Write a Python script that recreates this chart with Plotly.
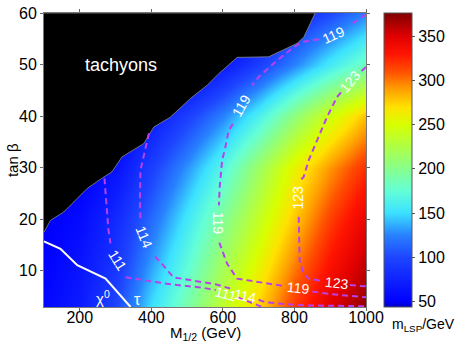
import plotly.graph_objects as go

# grid: m_LSP (GeV) at M_1/2 x tan(beta)
m12_grid = [100, 200, 300, 400, 500, 600, 700, 800, 900, 1000]
tanb_grid = [3, 10, 20, 30, 40, 50, 60]
mlsp_grid = [
    [55, 70, 100, 150, 190, 235, 275, 318, 350, 372],
    [52, 65, 90, 135, 175, 220, 260, 300, 335, 360],
    [48, 58, 80, 115, 155, 197, 238, 277, 315, 345],
    [45, 48, 62, 95, 130, 168, 215, 258, 292, 322],
    [45, 45, 45, 68, 95, 125, 162, 205, 245, 280],
    [45, 45, 45, 45, 45, 68, 95, 125, 157, 185],
    [45, 45, 45, 45, 45, 45, 45, 80, 100, 125],
]

# tachyon region boundary
tach_m12 = [100, 118, 155, 211, 221, 267, 290, 318, 379, 407, 453, 509, 556, 588, 621, 640, 728, 807, 826, 858]
tach_tanb = [17.5, 19.8, 21.4, 25.3, 26.0, 28.2, 29.2, 32.1, 34.7, 37.9, 39.8, 43.4, 46.0, 48.2, 50.2, 51.4, 51.5, 54.1, 55.3, 60]

# chi0 / stau LSP boundary
lsp_m12 = [100, 146, 193, 272, 342]
lsp_tanb = [15.7, 14.3, 11.1, 8.5, 3.0]

# Higgs mass contours (None = gap for label)
h111_m12 = [269, 274.6, 280.2, 285.8, None, 327.7, 369.6, 453.4, 537.2, 580, None, 640, 710]
h111_tanb = [27.95, 22.7, 17.9, 15.35, None, 8.76, 8.27, 7.4, 6.8, 6.3, None, 4.9, 3.0]
h114_m12 = [393.3, 369.6, 368.2, 369.6, None, 410, 425.4, 461.7, 537.2, 579, 620, None, 700, 718.7, 816.5, 1000]
h114_tanb = [36.7, 29.5, 23.7, 20.0, None, 12.8, 11.7, 8.76, 7.8, 7.4, 6.6, None, 4.4, 3.9, 3.33, 3.14]
h119_m12 = [1000, 955, None, 868, 853.6, 821.2, 793.3, 746.7, 700, 681.6, None, 628, 616.2, 607, 597.8, 591.1, 589, None,
            590, 595, 611.7, 639.7, 695.5, 732.7, 769.8, None, 850, 858.4, 905, 1000]
h119_tanb = [59.75, 57.6, None, 54.9, 54.7, 54.38, 53.1, 50.5, 47.6, 45.98, None, 38.5, 37.26, 34.0, 31.44, 26.26, 22.7, None,
             15.5, 14.63, 11.41, 8.5, 7.85, 7.54, 7.07, None, 6.0, 5.9, 5.46, 4.88]
h123_m12 = [1000, 985, None, 930, 919, 891.1, 863.1, 839.7, 825.7, 815, None, 812, 814.5, 825.7, 839.7, 880, None, 955, 960.9, 1000]
h123_tanb = [49.53, 48.6, None, 44.6, 43.71, 39.84, 35.32, 31.44, 28.2, 27.5, None, 20.5, 12.05, 9.47, 8.5, 8.0, None, 7.25, 7.2, 7.0]

# contour labels: m12, tanb, text, angle
labels = [
    (909, 55.8, "119", -24), (653, 42.1, "119", -60), (585.5, 19.2, "119", 90), (811, 6.6, "119", 6),
    (956, 46.8, "123", -50), (811, 24.3, "123", -90), (918, 7.7, "123", 6),
    (305, 12.1, "111", 58), (380, 16.6, "114", 68), (608, 5.5, "111", 15), (662, 5.2, "114", 12),
]

jet = [
    [0.0, "rgb(0,0,200)"], [0.02, "rgb(0,0,255)"], [0.17, "rgb(30,70,255)"], [0.245, "rgb(40,130,255)"],
    [0.32, "rgb(60,225,255)"], [0.395, "rgb(100,255,215)"], [0.47, "rgb(135,255,140)"],
    [0.545, "rgb(175,255,70)"], [0.62, "rgb(215,255,0)"], [0.68, "rgb(255,225,0)"],
    [0.74, "rgb(255,160,0)"], [0.80, "rgb(255,80,0)"], [0.86, "rgb(255,20,0)"],
    [0.92, "rgb(225,0,0)"], [1.0, "rgb(128,0,0)"],
]

fig = go.Figure()
fig.add_trace(go.Heatmap(
    x=m12_grid, y=tanb_grid, z=mlsp_grid, zsmooth="best", zmin=44, zmax=376,
    colorscale=jet,
    colorbar=dict(x=1.056, xanchor="left", xpad=0, y=0.5, ypad=0, len=1, lenmode="fraction", thickness=28,
                  tickvals=[50, 100, 150, 200, 250, 300, 350], ticks="outside", ticklen=3,
                  tickcolor="#555", outlinecolor="#555", outlinewidth=1,
                  tickfont=dict(size=16, color="black")),
))
fig.add_trace(go.Scatter(x=tach_m12 + [100], y=tach_tanb + [60], fill="toself", fillcolor="black",
                         mode="lines", line=dict(color="#888", width=0.8), hoverinfo="skip"))
fig.add_trace(go.Scatter(x=lsp_m12, y=lsp_tanb, mode="lines", line=dict(color="white", width=2)))
for xs, ys in [(h111_m12, h111_tanb), (h114_m12, h114_tanb), (h119_m12, h119_tanb), (h123_m12, h123_tanb)]:
    fig.add_trace(go.Scatter(x=xs, y=ys, mode="lines", connectgaps=False,
                             line=dict(color="rgb(185,65,235)", width=2, dash="6px,4px")))

for lx, ly, txt, ang in labels:
    fig.add_annotation(x=lx, y=ly, text=txt, textangle=ang, showarrow=False,
                       font=dict(size=14, color="white"))
fig.add_annotation(x=314, y=49.9, text="tachyons", showarrow=False, font=dict(size=18, color="white"))
fig.add_annotation(x=266, y=4.8, text="χ<sup>0</sup>", showarrow=False, font=dict(size=15, color="white"))
fig.add_annotation(x=362, y=4.4, text="τ", showarrow=False, font=dict(size=16, color="white"))
fig.add_annotation(xref="paper", yref="paper", x=1.075, y=-0.025, xanchor="left", yanchor="top",
                   text="m<sub>LSP</sub>/GeV", showarrow=False, font=dict(size=14, color="black"))
fig.add_annotation(xref="paper", yref="paper", x=0.5, y=-0.09, xanchor="center", yanchor="middle",
                   text="M<sub>1/2</sub> (GeV)", showarrow=False, font=dict(size=15, color="black"))
fig.add_annotation(xref="paper", yref="paper", x=-0.099, y=0.5, xanchor="center", yanchor="middle",
                   text="tan β", textangle=-90, showarrow=False, font=dict(size=15, color="black"))

axis_style = dict(showline=True, linecolor="#777", linewidth=1, mirror="ticks", ticks="outside",
                  ticklen=3, tickcolor="#666", showgrid=False, zeroline=False, automargin=False,
                  tickfont=dict(size=16, color="black"))
fig.update_xaxes(range=[100, 1000], tickvals=[200, 400, 600, 800, 1000], ticklabelstandoff=-7, **axis_style)
fig.update_yaxes(range=[3, 60], tickvals=[10, 20, 30, 40, 50, 60], **axis_style)
fig.update_layout(width=463, height=348, margin=dict(l=44, r=97, t=13, b=41, autoexpand=False),
                  paper_bgcolor="white", plot_bgcolor="black", showlegend=False,
                  font=dict(family="Liberation Sans, Arial, sans-serif"))
# drop the page's default body margin so the figure sits at the window's corner
fig.write_html("out.html", config={"displayModeBar": False},
               post_script="document.body.style.margin='0px';")
